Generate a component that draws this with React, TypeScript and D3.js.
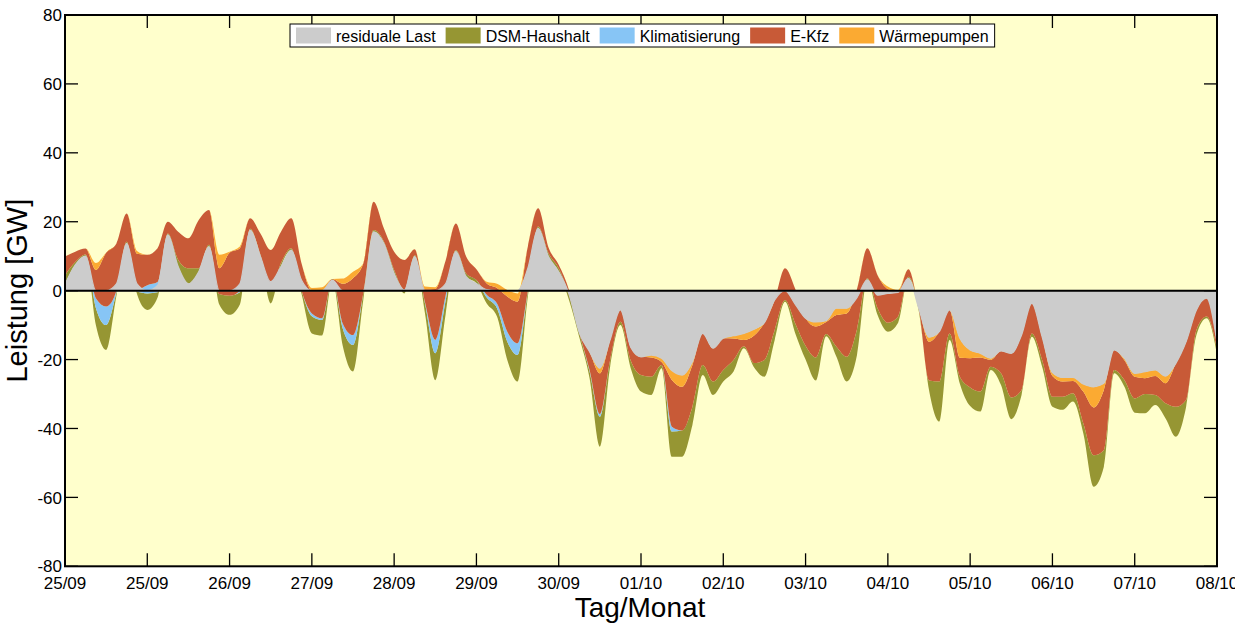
import * as d3 from "d3";
import React, { useEffect, useRef } from "react";

// one value every 3 hours, starting 25/09
const stepHours = 3;

// residuale Last (GW)
const resid = [
  1.8, 7.5, 10, 0, 0, 2, 13.7, 2, 0, 1.5, 16.2, 7, 2, 5.5, 12.8, 0, 0, 2, 17.6, 9.9,
  2.6, 7, 11.8, 3, 0, 0, 3, 0, 0, 0, 17.1, 13.7, 5, 0.2, 9.9, 0, 0, 2, 11.3, 4.1,
  2.1, 0.3, 0, 0, 0, 6.5, 18.1, 9.9, 5.5, -1, -12.2, -17.7, -22.5, -14.3, -5.6, -16.4, -19.2, -18.7, -19.6, -23.2,
  -24.5, -20.6, -12.4, -16.7, -13.8, -13.1, -12.4, -11.2, -9.3, -2.7, 0, -4, -8, -9.1, -8.7, -5.1, -5.1, -2, 3.1, -1.3,
  -0.8, -0.5, 3.6, -5.1, -13.5, -11.9, -5.6, -13.8, -17.2, -18.2, -19.6, -17.5, -18.2, -12.9, -3.7, -13.4, -23.8, -25.2, -25.2, -27.1,
  -27.9, -26.9, -17.2, -19.6, -24, -23.5, -23, -24.8, -21.1, -14.8, -5.6, -2.2, -15,
];

// lower edge of the flexible-load stack (GW)
const flexBase = [
  1.8, 7.5, 10, -10, -17.2, -1.5, 13.7, -1, -5.6, -2, 16.2, 7, 2, 5.5, 12.8, -4, -7, -4, 17.6, 9.9,
  -3.7, 7, 11.8, -1, -12.4, -13, 3, -16, -23.5, -2.7, 17.1, 13.7, 5, -0.8, 9.9, -6.6, -26, -7, 11.3, 4.1,
  2.1, -3.7, -7.5, -20.1, -26.4, -1.7, 18.1, 9.9, 5.5, -2.7, -13.5, -25.4, -45.3, -22.1, -10, -22.5, -29.3, -30.3, -22.5, -48.2,
  -48.2, -39, -24.5, -30.3, -26.4, -23.5, -16.7, -22.3, -25, -14.3, -3.2, -12.4, -20, -26.1, -13.2, -19.2, -26.4, -18.7, 3.1, -7.1,
  -11.9, -9.3, 3.6, -5.8, -28.8, -38, -14.3, -27, -33.5, -35.1, -23, -27.4, -37.3, -30.3, -13.4, -22.1, -33.7, -34.6, -32.2, -41.4,
  -56.9, -51.1, -24, -27.9, -35.4, -35.6, -33.2, -37.1, -42.4, -33.7, -12.9, -8, -18.5,
];

const dsm = [
  2.7, 0.8, 0.5, 5, 7.2, 1, 0.5, 0.8, 4.8, 1.5, 0.4, 2, 4.5, 1, 0.5, 3, 5.5, 3.5, 0.4, 0.5,
  3.7, 1, 0.5, 1, 5, 4.5, 0.4, 5, 7.7, 1.9, 0.5, 0.6, 1, 1, 0.4, 2.9, 7.8, 4, 0.5, 0.9,
  1, 1.7, 2.4, 5.3, 7.7, 1.5, 0.5, 1, 1, 1.5, 1.2, 1.9, 8.7, 2, 1, 2.2, 4.8, 5.3, 0.9, 7.3,
  7.6, 5.3, 2.9, 3.9, 3.4, 3.4, 0.6, 1.3, 4.9, 2.9, 0.5, 2.9, 4, 6.7, 0.6, 2.9, 7.2, 7.5, 0.5, 2,
  2.6, 1.8, 0.4, 0.7, 2.7, 11.6, 1.9, 2, 5.4, 5.8, 0.9, 3.4, 6.3, 1.5, 1, 2, 2.9, 3.8, 2.4, 2.9,
  9.1, 4.8, 1, 2, 4.1, 5.6, 2.9, 4.4, 8.7, 2, 1.5, 0.5, 1.5,
];

const klima = [
  0, 0, 0, 2.8, 5.4, 0.5, 0, 0.5, 2.4, 3, 0, 0, 0, 0, 0, 0, 0, 0.5, 0, 0,
  0, 0, 0, 0, 0.8, 0.5, 0, 1.5, 2.9, 0, 0, 0, 0, 0, 0, 0.3, 3.9, 1.5, 0, 0,
  0, 0.8, 1.4, 2.9, 3.4, 0.2, 0, 0, 0, 0, 0, 0.5, 0.8, 0, 0, 0, 0, 0, 0, 1.4,
  0, 0, 0, 0, 0, 0, 0, 0, 0, 0, 0, 0, 0, 0, 0, 0, 0, 0, 0, 0,
  0, 0, 0, 0, 0, 0, 0, 0, 0, 0, 0, 0, 0, 0, 0, 0, 0, 0, 0, 0,
  0, 0, 0, 0, 0, 0, 0, 0, 0, 0, 0, 0, 0,
];

const ekfz = [
  5.4, 3, 1.7, 8.2, 15.6, 13.7, 8.2, 10.4, 8.8, 9.8, 3.4, 8.1, 8.7, 14, 10.1, 7.5, 12.5, 12.3, 3, 6.2,
  11.8, 9.1, 8.7, 7.9, 6.6, 8, 0, 11.5, 16.5, 8.7, 8.2, 3.8, 5.3, 8.7, 1.7, 3.8, 14.8, 10.2, 7.7, 4.9,
  3.1, 3.3, 4.5, 10.2, 12.1, 12.8, 5.3, 1.7, 1, 1.4, 0.3, 5.3, 11.8, 5.8, 3.4, 3.9, 5.3, 5.6, 0.9, 13.6,
  12.7, 12.1, 9.2, 9.7, 9.2, 6.2, 1.8, 8, 10.8, 8.7, 9.2, 10, 8, 9, 3.5, 9.2, 12.6, 11.7, 8.7, 9.6,
  9.8, 7.2, 2.2, 0.5, 11.3, 14.5, 6.8, 5.5, 8.5, 9.9, 2, 6.5, 12.8, 15.9, 8.7, 6.7, 6, 4.4, 3.6, 9.2,
  13.9, 17.5, 5.8, 5.7, 6.3, 4.6, 5.5, 5.8, 12.6, 16.9, 5.8, 5.3, 2,
];

const wp = [
  0, 0, 0, 2, 0, 0, 0, 0.8, 0, 0, 0, 0, 0, 0, 0, 3.9, 0.3, 0.5, 0, 0,
  0, 0, 0, 0, 0.8, 1, 0, 1.5, 1.9, 0, 0, 0, 0, 0, 0, 0.8, 0.5, 0, 0, 0,
  0, 0.5, 1.2, 1.9, 2.4, 0, 0, 0, 0, 0, 0, 0, 1.5, 0, 0, 0, 0, 0.7, 1.1, 2.7,
  3.4, 1, 0, 0, 0, 0.8, 1.9, 1.8, 0, 0, 0, 0, 0, 1.3, 0.4, 2, 1.5, 0, 0, 0,
  0.7, 0.5, 0, 0, 1.3, 0, 0, 5.7, 2.4, 1.2, 0.5, 0, 0, 0, 0, 0, 1, 1.2, 1, 2.2,
  6, 1.9, 0, 0.6, 1, 1.9, 1.8, 2.1, 0, 0, 0, 0, 0,
];

const xTickLabels = [
  "25/09", "25/09", "26/09", "27/09", "28/09", "29/09", "30/09", "01/10",
  "02/10", "03/10", "04/10", "05/10", "06/10", "07/10", "08/10",
];
const yTicks = [-80, -60, -40, -20, 0, 20, 40, 60, 80];

const seriesNames = ["residuale Last", "DSM-Haushalt", "Klimatisierung", "E-Kfz", "Wärmepumpen"];
const colors = ["#cccccc", "#969633", "#87c5f5", "#c85a37", "#fbaa32"];
const flexKeys = ["dsm", "klima", "ekfz", "wp"];

export default function App() {
  const chartRef = useRef<SVGSVGElement>(null);

  useEffect(() => {
    const containerWidth = 1235;
    const containerHeight = 623;
    const margin = { top: 15, right: 18, bottom: 56.7, left: 65 };
    const width = containerWidth - margin.left - margin.right;
    const height = containerHeight - margin.top - margin.bottom;
    const font = "'Liberation Sans', Arial, sans-serif";
    const curve = d3.curveMonotoneX;

    const rows = resid.map((r, i) => ({
      t: i * stepHours,
      resid: r,
      base: flexBase[i],
      dsm: dsm[i],
      klima: klima[i],
      ekfz: ekfz[i],
      wp: wp[i],
    }));

    const chart = d3.select(chartRef.current);
    chart.selectAll("*").remove();

    const main = chart
      .append("g")
      .attr("transform", `translate(${margin.left},${margin.top})`);

    const xScale = d3
      .scaleLinear()
      .domain([0, (xTickLabels.length - 1) * 24])
      .range([0, width]);
    const yScale = d3.scaleLinear().domain([-80, 80]).range([height, 0]);

    main
      .append("rect")
      .attr("width", width)
      .attr("height", height)
      .attr("fill", "#ffffcc");

    // flexible loads stacked upward from their lower edge
    const stacked = d3.stack<any>().keys(flexKeys)(rows);
    const flexArea = d3
      .area<any>()
      .curve(curve)
      .x((d) => xScale(d.data.t))
      .y0((d) => yScale(d[0] + d.data.base))
      .y1((d) => yScale(d[1] + d.data.base));

    main
      .selectAll(".flex")
      .data(stacked)
      .enter()
      .append("path")
      .attr("class", "flex")
      .attr("fill", (d, i) => colors[i + 1])
      .attr("d", flexArea);

    // residual load on top
    const residArea = d3
      .area<any>()
      .curve(curve)
      .x((d) => xScale(d.t))
      .y0(yScale(0))
      .y1((d) => yScale(d.resid));
    main
      .append("path")
      .datum(rows)
      .attr("fill", colors[0])
      .attr("stroke", colors[0])
      .attr("stroke-width", 1.2)
      .attr("stroke-linejoin", "round")
      .attr("d", residArea);

    main
      .append("line")
      .attr("x1", 0)
      .attr("x2", width)
      .attr("y1", yScale(0))
      .attr("y2", yScale(0))
      .attr("stroke", "#000")
      .attr("stroke-width", 2);

    // box
    main
      .append("rect")
      .attr("width", width)
      .attr("height", height)
      .attr("fill", "none")
      .attr("stroke", "#000")
      .attr("stroke-width", 2);

    const tickLen = 13;
    const xTicks = xTickLabels.map((_, i) => i * 24);

    const yt = main.append("g").attr("class", "y-ticks");
    yTicks.forEach((v) => {
      yt.append("line")
        .attr("x1", 0)
        .attr("x2", tickLen)
        .attr("y1", yScale(v))
        .attr("y2", yScale(v))
        .attr("stroke", "#000")
        .attr("stroke-width", 1.3);
      yt.append("line")
        .attr("x1", width - tickLen)
        .attr("x2", width)
        .attr("y1", yScale(v))
        .attr("y2", yScale(v))
        .attr("stroke", "#000")
        .attr("stroke-width", 1.3);
      yt.append("text")
        .attr("x", -3)
        .attr("y", yScale(v))
        .attr("dy", "0.36em")
        .attr("text-anchor", "end")
        .attr("font-family", font)
        .attr("font-size", "17px")
        .attr("fill", "#000")
        .text(v);
    });

    const xt = main.append("g").attr("class", "x-ticks");
    xTicks.forEach((t, i) => {
      xt.append("line")
        .attr("x1", xScale(t))
        .attr("x2", xScale(t))
        .attr("y1", height)
        .attr("y2", height - tickLen)
        .attr("stroke", "#000")
        .attr("stroke-width", 1.3);
      xt.append("line")
        .attr("x1", xScale(t))
        .attr("x2", xScale(t))
        .attr("y1", 0)
        .attr("y2", tickLen)
        .attr("stroke", "#000")
        .attr("stroke-width", 1.3);
      xt.append("text")
        .attr("x", xScale(t))
        .attr("y", height + 22.5)
        .attr("text-anchor", "middle")
        .attr("font-family", font)
        .attr("font-size", "17px")
        .attr("fill", "#000")
        .text(xTickLabels[i]);
    });

    // axis titles
    chart
      .append("text")
      .attr("transform", `translate(27,${margin.top + yScale(0)}) rotate(-90)`)
      .attr("text-anchor", "middle")
      .attr("font-family", font)
      .attr("font-size", "29px")
      .attr("fill", "#000")
      .text("Leistung [GW]");

    chart
      .append("text")
      .attr("x", 640)
      .attr("y", 617)
      .attr("text-anchor", "middle")
      .attr("font-family", font)
      .attr("font-size", "28px")
      .attr("fill", "#000")
      .text("Tag/Monat");

    // legend
    const legend = chart.append("g").attr("class", "legend");
    const box = legend
      .append("rect")
      .attr("x", 290)
      .attr("y", 24)
      .attr("height", 23)
      .attr("fill", "#fff")
      .attr("stroke", "#000")
      .attr("stroke-width", 1);
    let cx = 296;
    seriesNames.forEach((name, i) => {
      legend
        .append("rect")
        .attr("x", cx)
        .attr("y", 27.5)
        .attr("width", 35)
        .attr("height", 16)
        .attr("fill", colors[i]);
      const label = legend
        .append("text")
        .attr("x", cx + 40)
        .attr("y", 41.5)
        .attr("font-family", font)
        .attr("font-size", "16px")
        .attr("fill", "#000")
        .text(name);
      const len = (label.node() as SVGTextElement).getComputedTextLength();
      cx = cx + 40 + len + 10;
    });
    box.attr("width", cx - 4 - 290);
  }, []);

  return (
    <svg
      ref={chartRef}
      width={1235}
      height={623}
      style={{ position: "absolute", left: 0, top: 0, background: "#fff" }}
    />
  );
}
